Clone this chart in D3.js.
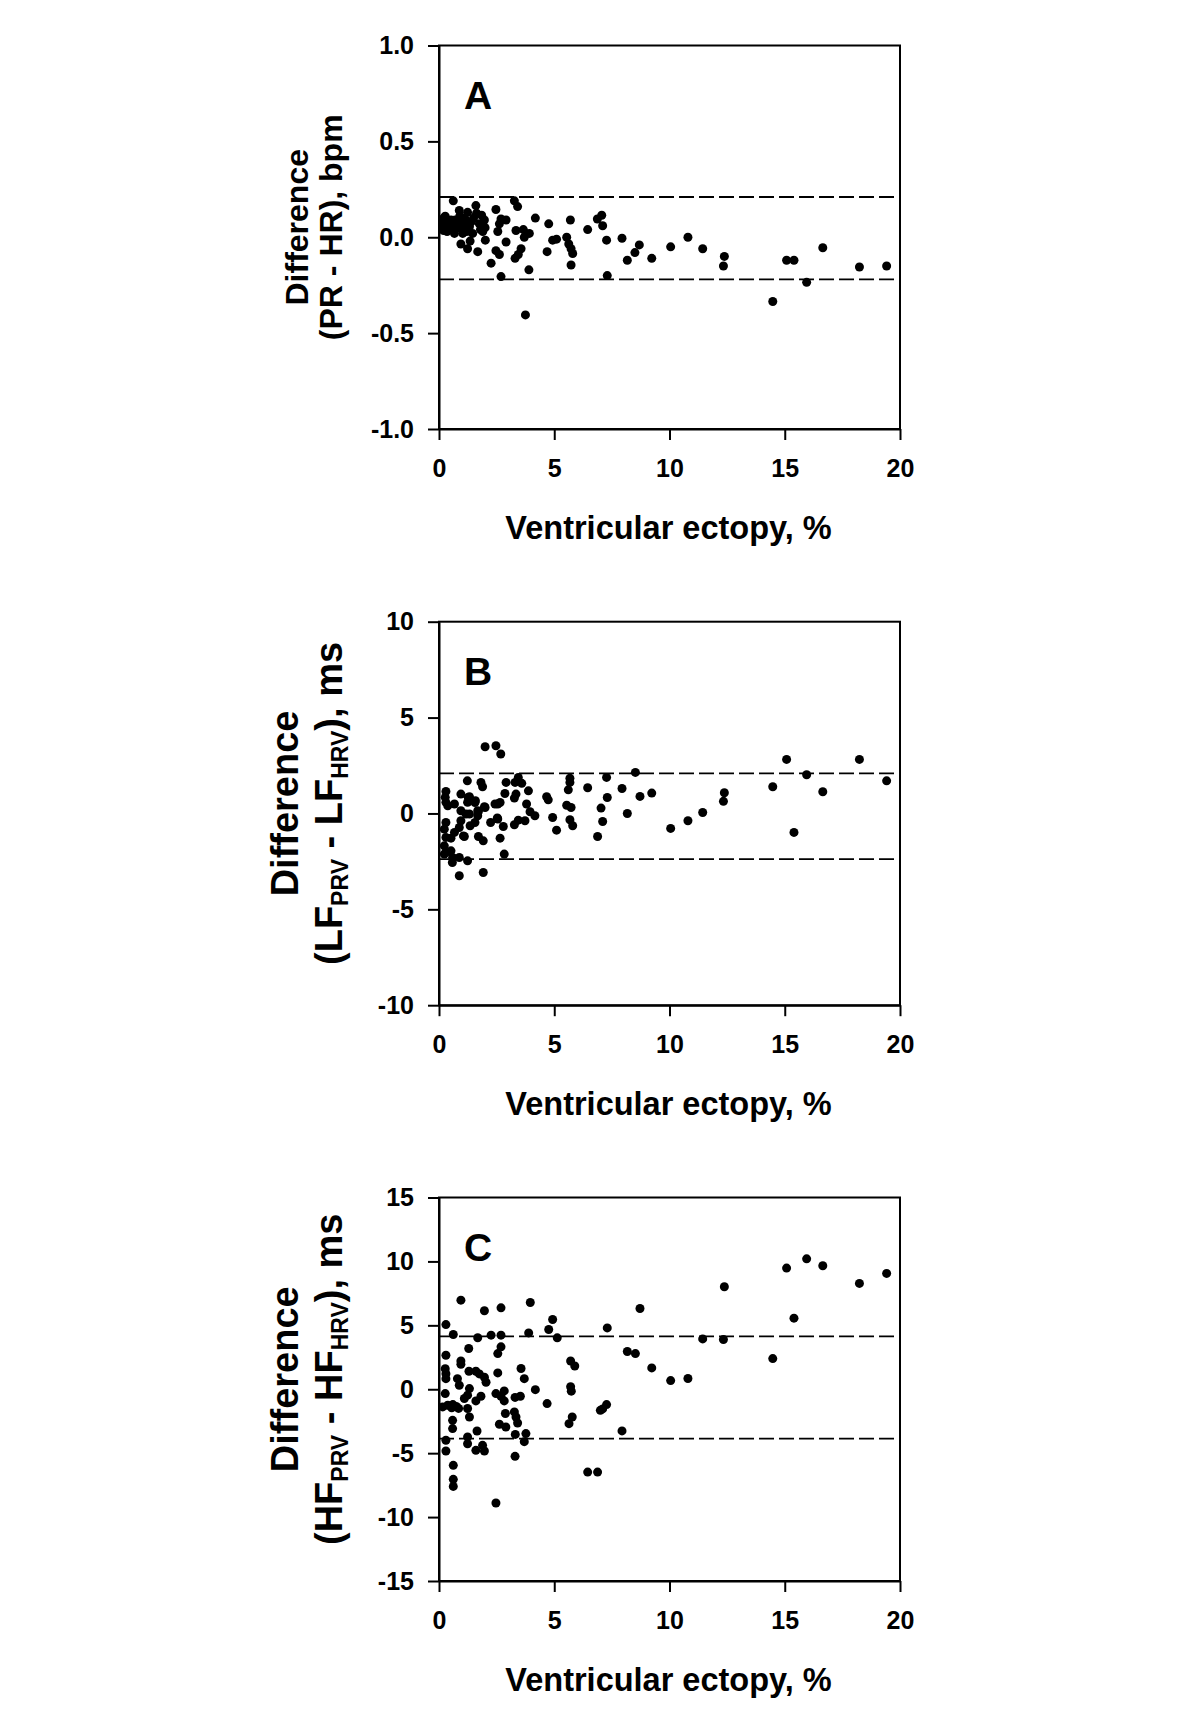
<!DOCTYPE html>
<html><head><meta charset="utf-8">
<script src="https://cdn.jsdelivr.net/npm/d3@7"></script>
<style>
body{margin:0;background:#fff;}
svg{display:block;}
text{font-family:"Liberation Sans",Arial,sans-serif;font-weight:bold;fill:#000;}
</style></head>
<body>
<script>
// ---------- data ----------
const xDomain = [0, 20];
const xTicks = [0, 5, 10, 15, 20];
const xTitle = "Ventricular ectopy, %";

const yTicksA = [-1.0, -0.5, 0.0, 0.5, 1.0];
const yTicksB = [-10, -5, 0, 5, 10];
const yTicksC = [-15, -10, -5, 0, 5, 10, 15];

const limitsA = [0.21, -0.22];
const limitsB = [2.09, -2.38];
const limitsC = [4.13, -3.86];

const pointsA = [
[0.62,0.19],[0.88,0.14],[0.27,0.11],[0.16,0.08],[0.2,0.055],[0.2,0.035],[0.52,0.09],[0.45,0.045],[0.67,0.02],[0.95,0.07],
[1.24,0.13],[1.17,0.09],[1.32,0.055],[1.6,0.165],[1.63,0.125],[1.75,0.07],[1.97,0.09],[1.9,0.03],[2.01,-0.015],[0.95,-0.035],
[1.24,-0.06],[1.68,-0.075],[1.03,0.02],[0.74,0.055],[1.46,0.02],[2.47,0.145],[2.69,0.095],[2.91,0.09],[2.62,0.07],[2.55,0.03],
[2.91,-0.025],[2.47,-0.07],[2.62,-0.09],[2.26,-0.135],[2.69,-0.205],[3.3,-0.11],[3.56,-0.06],[3.44,-0.09],[3.27,0.19],[3.41,0.16],
[3.34,0.035],[3.66,0.04],[3.92,0.02],[3.7,0.0],[3.9,-0.17],[3.75,-0.405],[4.18,0.1],[4.76,0.07],[4.69,-0.075],[4.93,-0.015],
[5.1,-0.01],[5.54,0.0],[5.63,-0.035],[5.73,-0.06],[5.8,-0.085],[5.73,-0.145],[5.7,0.09],[6.45,0.04],[6.87,0.095],[7.06,0.115],
[7.1,0.06],[7.27,-0.015],[7.3,-0.2],[7.94,-0.005],[8.69,-0.04],[8.5,-0.08],[8.17,-0.12],[9.23,-0.11],[10.05,-0.05],[10.8,0.0],
[11.44,-0.06],[12.38,-0.1],[12.34,-0.15],[14.48,-0.335],[15.08,-0.12],[15.4,-0.12],[15.95,-0.235],[16.65,-0.055],[18.24,-0.155],[19.42,-0.15],
[0.3,0.07],[0.4,0.06],[0.55,0.065],[0.6,0.04],[0.8,0.08],[0.85,0.05],[1.1,0.06],[1.0,0.1],[0.35,0.03],[0.7,0.09],
[1.4,0.08],[1.5,0.1],[1.8,0.04],[0.2,0.1],[1.2,0.03],[0.9,0.11],[1.35,-0.02],[1.85,0.115],[2.0,0.05]
];

const pointsB = [
[2.0,3.48],[2.47,3.53],[2.68,3.1],[15.08,2.82],[18.24,2.82],[15.95,2.02],[19.42,1.7],[14.48,1.39],[16.65,1.13],[15.4,-0.99],
[12.38,1.08],[12.34,0.63],[11.44,0.05],[10.8,-0.38],[10.05,-0.78],[9.23,1.06],[8.72,0.89],[8.52,2.14],[7.94,1.3],[8.17,0.0],
[7.27,1.88],[7.3,0.83],[7.03,0.28],[7.1,-0.42],[6.88,-1.2],[6.45,1.34],[5.68,1.84],[5.68,1.62],[5.61,1.23],[5.54,0.43],
[5.73,0.31],[5.68,-0.33],[5.8,-0.64],[5.1,-0.87],[4.93,-0.21],[4.67,0.87],[4.74,0.71],[4.16,-0.12],[3.95,0.09],[3.8,0.49],
[3.88,1.18],[3.59,1.57],[3.44,1.88],[3.3,1.62],[3.34,1.01],[3.27,0.8],[3.73,-0.38],[3.44,-0.35],[3.27,-0.59],[2.91,1.62],
[2.86,1.04],[2.65,0.57],[2.43,0.49],[2.53,-0.24],[2.79,-0.68],[2.65,-1.29],[2.83,-2.12],[2.24,-0.47],[2.0,0.31],[1.82,1.62],
[1.89,1.39],[1.71,0.1],[1.56,-0.47],[1.71,-1.2],[1.92,-1.43],[1.92,-3.08],[1.23,1.7],[1.27,0.83],[1.56,0.57],[1.35,-0.64],
[1.24,-2.47],[0.88,-3.25],[1.06,-1.17],[0.58,-2.56],[0.23,-2.12],[0.3,1.15],[0.27,0.84],[0.3,0.58],[0.38,0.4],[0.95,1.01],
[1.32,0.87],[1.24,0.58],[1.58,0.66],[0.67,0.49],[0.95,0.14],[1.17,-0.03],[1.68,0.14],[1.68,-0.12],[1.97,0.35],[1.32,-0.03],
[0.95,-0.38],[0.88,-0.73],[0.67,-0.99],[0.3,-0.47],[0.23,-0.82],[0.3,-1.25],[0.52,-1.29],[1.1,-1.2],[0.23,-1.69],[0.3,-2.03],
[0.52,-1.95],[0.59,-2.3],[0.88,-2.3],[2.55,-0.29],[2.55,0.49]
];

const pointsC = [
[15.95,10.2],[15.08,9.48],[16.65,9.66],[19.42,9.06],[18.24,8.28],[12.38,8.02],[15.4,5.56],[11.44,3.94],[12.34,3.89],[14.48,2.4],
[8.72,6.32],[8.17,2.95],[8.52,2.79],[9.23,1.67],[10.05,0.68],[10.8,0.84],[7.3,4.8],[7.27,-1.2],[7.1,-1.54],[7.0,-1.65],
[7.94,-3.26],[6.45,-6.48],[6.88,-6.48],[5.71,2.21],[5.89,1.82],[5.71,0.2],[5.74,-0.15],[5.78,-2.17],[5.64,-2.69],[5.13,4.02],
[4.93,5.46],[4.76,4.67],[4.69,-1.12],[4.18,-0.03],[3.96,6.79],[3.89,4.41],[3.56,1.62],[3.7,0.83],[3.53,-0.55],[3.3,-0.64],
[3.27,-1.77],[3.34,-2.17],[3.41,-2.64],[3.31,-3.53],[3.77,-3.47],[3.7,-4.1],[3.3,-5.25],[2.47,-8.9],[2.69,6.37],[2.26,4.23],
[2.69,4.23],[2.69,3.32],[2.55,2.79],[2.55,1.28],[2.47,-0.34],[2.83,-0.13],[2.69,-0.55],[2.83,-0.91],[2.88,-1.9],[2.62,-2.74],
[2.9,-2.95],[1.97,6.14],[1.68,4.03],[1.29,3.19],[0.95,6.97],[0.3,5.06],[0.62,4.28],[0.3,2.66],[0.95,2.21],[0.95,1.95],
[0.27,1.6],[0.3,1.22],[0.3,0.83],[0.8,0.83],[0.88,0.31],[1.3,1.41],[1.6,1.41],[1.75,1.2],[1.97,0.94],[2.04,0.55],
[1.32,0.05],[1.24,-0.46],[1.1,-0.72],[1.82,-0.55],[1.6,-0.91],[1.24,-1.51],[0.27,-0.34],[0.16,-1.38],[0.38,-1.25],[0.6,-1.2],
[0.75,-1.35],[0.85,-1.5],[0.55,-1.45],[1.32,-2.17],[0.59,-2.43],[0.59,-3.08],[1.65,-3.27],[1.24,-3.73],[1.24,-4.26],[1.89,-4.39],
[1.6,-4.78],[1.97,-4.83],[0.3,-3.99],[0.3,-4.83],[0.62,-5.95],[0.62,-7.05],[0.62,-7.6]
];

// ---------- drawing ----------
const W = 1200, H = 1734;
const svg = d3.select("body").append("svg").attr("width", W).attr("height", H);
svg.append("rect").attr("width", W).attr("height", H).attr("fill", "#fff");

const left = 439, right = 900, ph = 383.5;
const x = d3.scaleLinear().domain(xDomain).range([left, right]);
const hy = s => s.replace("−", "-");

function panel(top, ticks, fmt, pts, limits, letter, titleSize, line1X, line2X, line2) {
  const y = d3.scaleLinear().domain([ticks[0], ticks[ticks.length - 1]]).range([top + ph, top]);
  const g = svg.append("g");

  // limit lines
  g.selectAll("line.lim").data(limits).enter().append("line")
    .attr("x1", left).attr("x2", right)
    .attr("y1", d => y(d)).attr("y2", d => y(d))
    .attr("stroke", "#000").attr("stroke-width", 1.8).attr("stroke-dasharray", "15,5");

  // points
  g.selectAll("circle").data(pts).enter().append("circle")
    .attr("cx", d => x(d[0])).attr("cy", d => y(d[1])).attr("r", 4.5).attr("fill", "#000");

  // frame
  g.append("rect").attr("x", left).attr("y", top).attr("width", right - left).attr("height", ph)
    .attr("fill", "none").attr("stroke", "#000").attr("stroke-width", 2);

  // axes
  const ya = g.append("g").attr("transform", `translate(${left},0)`)
    .call(d3.axisLeft(y).tickValues(ticks).tickSize(11).tickSizeOuter(0).tickPadding(14).tickFormat(d => hy(fmt(d))));
  const xa = g.append("g").attr("transform", `translate(0,${top + ph})`)
    .call(d3.axisBottom(x).tickValues(xTicks).tickSize(11).tickSizeOuter(0).tickPadding(19).tickFormat(d3.format("d")));
  [ya, xa].forEach(a => {
    a.select(".domain").attr("stroke-width", 2);
    a.selectAll(".tick line").attr("stroke-width", 2);
    a.selectAll("text").attr("font-size", 25).attr("font-family", null).attr("fill", "#000");
  });

  // panel letter
  g.append("text").attr("x", 464).attr("y", top + 63).attr("font-size", 39).text(letter);

  // x title
  g.append("text").attr("x", (left + right) / 2 - 1).attr("y", top + ph + 110)
    .attr("text-anchor", "middle").attr("font-size", 32.5).text(xTitle);

  // y title
  const cy = top + ph / 2 - 10;
  g.append("text").attr("transform", `translate(${line1X},${cy}) rotate(-90)`)
    .attr("text-anchor", "middle").attr("dy", "0.36em").attr("font-size", titleSize).text("Difference");
  const t2 = g.append("text").attr("transform", `translate(${line2X},${cy}) rotate(-90)`)
    .attr("text-anchor", "middle").attr("dy", "0.36em").attr("font-size", titleSize);
  line2.forEach(seg => {
    if (seg.sub) {
      t2.append("tspan").attr("font-size", 23).attr("dy", 6).text(seg.t);
    } else {
      const ts = t2.append("tspan").text(seg.t);
      if (seg.after) ts.attr("dy", -6);
    }
  });
}

panel(45.5, yTicksA, d3.format(".1f"), pointsA, limitsA, "A", 32, 296, 330,
  [{t: "(PR - HR), bpm"}]);
panel(621.7, yTicksB, d3.format("d"), pointsB, limitsB, "B", 38, 284, 328,
  [{t: "(LF"}, {t: "PRV", sub: true}, {t: " - LF", after: true}, {t: "HRV", sub: true}, {t: "), ms", after: true}]);
panel(1197.5, yTicksC, d3.format("d"), pointsC, limitsC, "C", 38, 284, 328,
  [{t: "(HF"}, {t: "PRV", sub: true}, {t: " - HF", after: true}, {t: "HRV", sub: true}, {t: "), ms", after: true}]);
</script>
</body></html>
